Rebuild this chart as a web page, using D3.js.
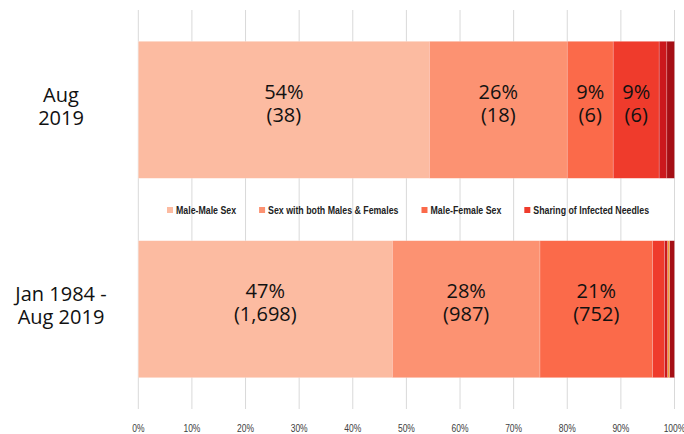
<!DOCTYPE html>
<html lang="en">
<head>
    <meta charset="UTF-8">
    <title>HIV Transmission Categories</title>
    <script src="https://d3js.org/d3.v7.min.js"></script>
    <style>
        body { margin: 0; background: #fff; }
    </style>
</head>
<body>
    <div id="chart"></div>

    <script>
        // periods (rows) and transmission categories
        const periods = [["Aug", "2019"], ["Jan 1984 -", "Aug 2019"]];
        const categories = ["Male-Male Sex", "Sex with both Males & Females", "Male-Female Sex",
            "Sharing of Infected Needles", "Mother to Child", "Blood Transfusion", "Unknown"];
        const legendCategories = categories.slice(0, 4);

        // case counts, one array per period, in category order
        const aug2019 = [38, 18, 6, 6, 1, 0, 1];
        const cumulative = [1698, 987, 752, 80, 22, 13, 32];
        const values = [aug2019, cumulative];

        const colours = ["#fcbba1", "#fc9272", "#fb6a4a", "#ef3b2c", "#cb181d", "#f39c33", "#a50f15"];
        const tickValues = [0, 0.1, 0.2, 0.3, 0.4, 0.5, 0.6, 0.7, 0.8, 0.9, 1];

        const width = 684, height = 434;
        const narrow = "'Liberation Sans', Arial, sans-serif";
        const svg = d3.select("#chart").append("svg")
            .attr("width", width)
            .attr("height", height)
            .style("font-family", "'Open Sans', 'Noto Sans', sans-serif");

        const x = d3.scaleLinear().domain([0, 1]).range([138.3, 674.5]);
        const y = d3.scaleBand().domain(d3.range(periods.length))
            .range([10, 409]).paddingInner(0.313).paddingOuter(0.157);
        const color = d3.scaleOrdinal().domain(categories).range(colours);

        // gridlines
        svg.append("g").selectAll("line")
            .data(tickValues)
            .join("line")
            .attr("x1", d => x(d)).attr("x2", d => x(d))
            .attr("y1", 10).attr("y2", 409)
            .attr("stroke", "#d9d9d9")
            .attr("stroke-width", 1);

        // tick labels (squeezed to look condensed)
        svg.append("g").selectAll("text")
            .data(tickValues)
            .join("text")
            .attr("transform", d => `translate(${x(d)},432) scale(0.85,1)`)
            .attr("text-anchor", "middle")
            .style("font-family", narrow)
            .style("font-size", "10px")
            .attr("fill", "#404040")
            .text(d3.format(".0%"));

        // stacked segments
        const rows = values.map((vals, i) => {
            const total = d3.sum(vals);
            let acc = 0;
            return vals.map((v, j) => {
                const seg = {row: i, cat: categories[j], value: v, share: v / total, x0: acc / total};
                acc += v;
                seg.x1 = acc / total;
                return seg;
            });
        });

        const bars = svg.append("g").selectAll("g")
            .data(rows)
            .join("g");

        bars.selectAll("rect")
            .data(d => d.filter(s => s.value > 0))
            .join("rect")
            .attr("x", d => x(d.x0))
            .attr("y", d => y(d.row))
            .attr("width", d => x(d.x1) - x(d.x0))
            .attr("height", y.bandwidth())
            .attr("fill", d => color(d.cat))
            .attr("stroke", "#fff")
            .attr("stroke-opacity", 0.35)
            .attr("stroke-width", 0.6);

        const labels = bars.selectAll("text")
            .data(d => d.filter(s => s.share >= 0.05))
            .join("text")
            .attr("text-anchor", "middle")
            .style("font-size", "20px")
            .attr("fill", "#111");

        labels.append("tspan")
            .attr("x", d => x((d.x0 + d.x1) / 2))
            .attr("y", d => y(d.row) + y.bandwidth() / 2 - 11)
            .text(d => d3.format(".0%")(d.share));
        labels.append("tspan")
            .attr("x", d => x((d.x0 + d.x1) / 2))
            .attr("y", d => y(d.row) + y.bandwidth() / 2 + 12)
            .text(d => "(" + d3.format(",")(d.value) + ")");

        // period labels on the left
        const rowLabels = svg.append("g").selectAll("text")
            .data(periods)
            .join("text")
            .attr("text-anchor", "middle")
            .style("font-size", "20px")
            .attr("fill", "#111");

        rowLabels.selectAll("tspan")
            .data((d, i) => d.map((line, k) => ({line, k, i})))
            .join("tspan")
            .attr("x", 61)
            .attr("y", d => y(d.i) + y.bandwidth() / 2 - 8 + d.k * 23)
            .text(d => d.line);

        // legend
        const legend = svg.append("g")
            .style("font-family", narrow)
            .style("font-size", "10px")
            .style("font-weight", "bold");
        const squeeze = 0.88;
        let lx = 167;
        legendCategories.forEach(c => {
            legend.append("rect")
                .attr("x", lx).attr("y", 207)
                .attr("width", 6).attr("height", 6)
                .attr("fill", color(c));
            const t = legend.append("text")
                .attr("transform", `translate(${lx + 9},214) scale(${squeeze},1)`)
                .attr("fill", "#222")
                .text(c);
            lx += 9 + t.node().getComputedTextLength() * squeeze + 23;
        });
    </script>
</body>
</html>
